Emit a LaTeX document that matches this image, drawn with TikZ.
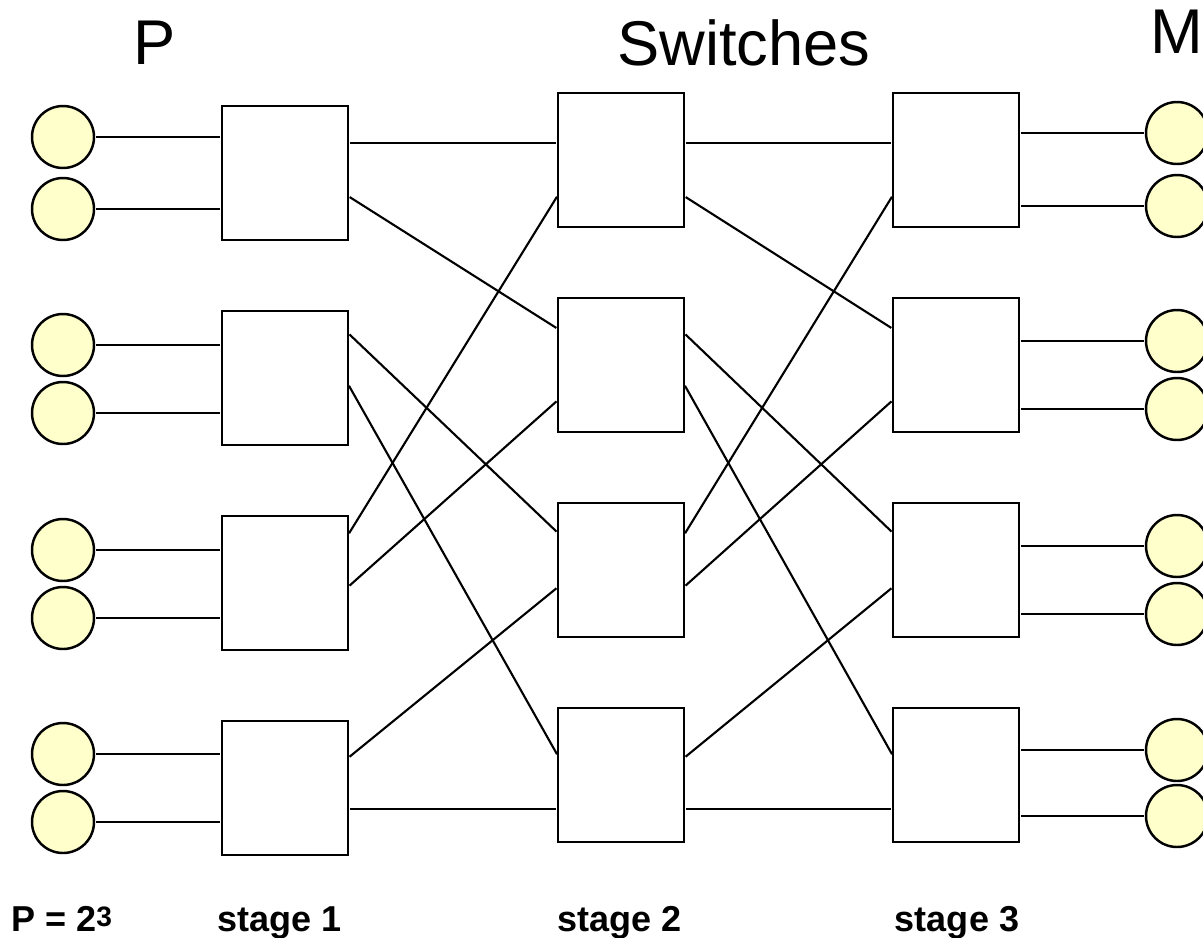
\documentclass[tikz,border=0pt]{standalone}
\usepackage{fontspec}
\setmainfont{Liberation Sans}
\definecolor{unitfill}{HTML}{FFFFCC}
\begin{document}
\begin{tikzpicture}[x=0.02cm,y=-0.02cm,
  sw/.style={draw=black,line width=1.4pt,fill=white,minimum width=2.52cm,minimum height=2.68cm,inner sep=0pt,outer sep=0pt},
  unit/.style={circle,draw=black,line width=1.4pt,fill=unitfill,minimum size=1.24cm,inner sep=0pt,outer sep=0pt},
  wire/.style={line width=1.2pt,shorten <=0.04cm,shorten >=0.04cm},
  head/.style={font=\fontsize{36}{40}\selectfont,anchor=base west,inner sep=0pt},
  foot/.style={font=\fontsize{20.5}{24}\selectfont\bfseries,anchor=base,inner sep=0pt}]
  % page frame
  \useasboundingbox (0,0) rectangle (1203,937);
  \fill[white] (0,0) rectangle (1203,937);
  \clip (0,0) rectangle (1203,937);

  % switch boxes of the three stages
  \foreach \i/\y in {1/173,2/378,3/583,4/788}
    \node[sw] (a\i) at (285,\y) {};
  \foreach \i/\y in {1/160,2/365,3/570,4/775}{
    \node[sw] (b\i) at (621,\y) {};
    \node[sw] (c\i) at (956,\y) {};
  }

  % processors (left) and memories (right)
  \foreach \i/\y in {1/137,2/209,3/345,4/413,5/550,6/618,7/754,8/822}
    \node[unit] (p\i) at (63,\y) {};
  \foreach \i/\y in {1/133,2/206,3/341,4/409,5/546,6/614,7/750,8/816}
    \node[unit] (m\i) at (1177,\y) {};

  % processor and memory links
  \foreach \i/\b in {1/1,2/1,3/2,4/2,5/3,6/3,7/4,8/4}{
    \draw[wire] (p\i) -- (a\b.west |- p\i);
    \draw[wire] (c\b.east |- m\i) -- (m\i);
  }

  % perfect-shuffle links between stages
  \foreach \s/\ys/\d/\yd in {1/143/1/143, 1/196/2/329, 2/333/3/533, 2/384/4/756,
                              3/535/1/195, 3/587/2/400, 4/758/3/587, 4/809/4/809}{
    \draw[wire] (a\s.east |- 0,\ys) -- (b\d.west |- 0,\yd);
    \draw[wire] (b\s.east |- 0,\ys) -- (c\d.west |- 0,\yd);
  }

  % headings
  \node[head] (tp) at (133,64) {P};
  \node[head] (ts) at (617,65) {Switches};
  \node[head] (tm) at (1150,53) {M};

  % captions
  \node[foot,anchor=base west] (eq) at (11,931) {P = 2\raisebox{0.1cm}{\fontsize{16}{18}\selectfont 3}};
  \node[foot] (st1) at (280,931) {stage 1};
  \node[foot] (st2) at (620,931) {stage 2};
  \node[foot] (st3) at (957,931) {stage 3};
\end{tikzpicture}
\end{document}
